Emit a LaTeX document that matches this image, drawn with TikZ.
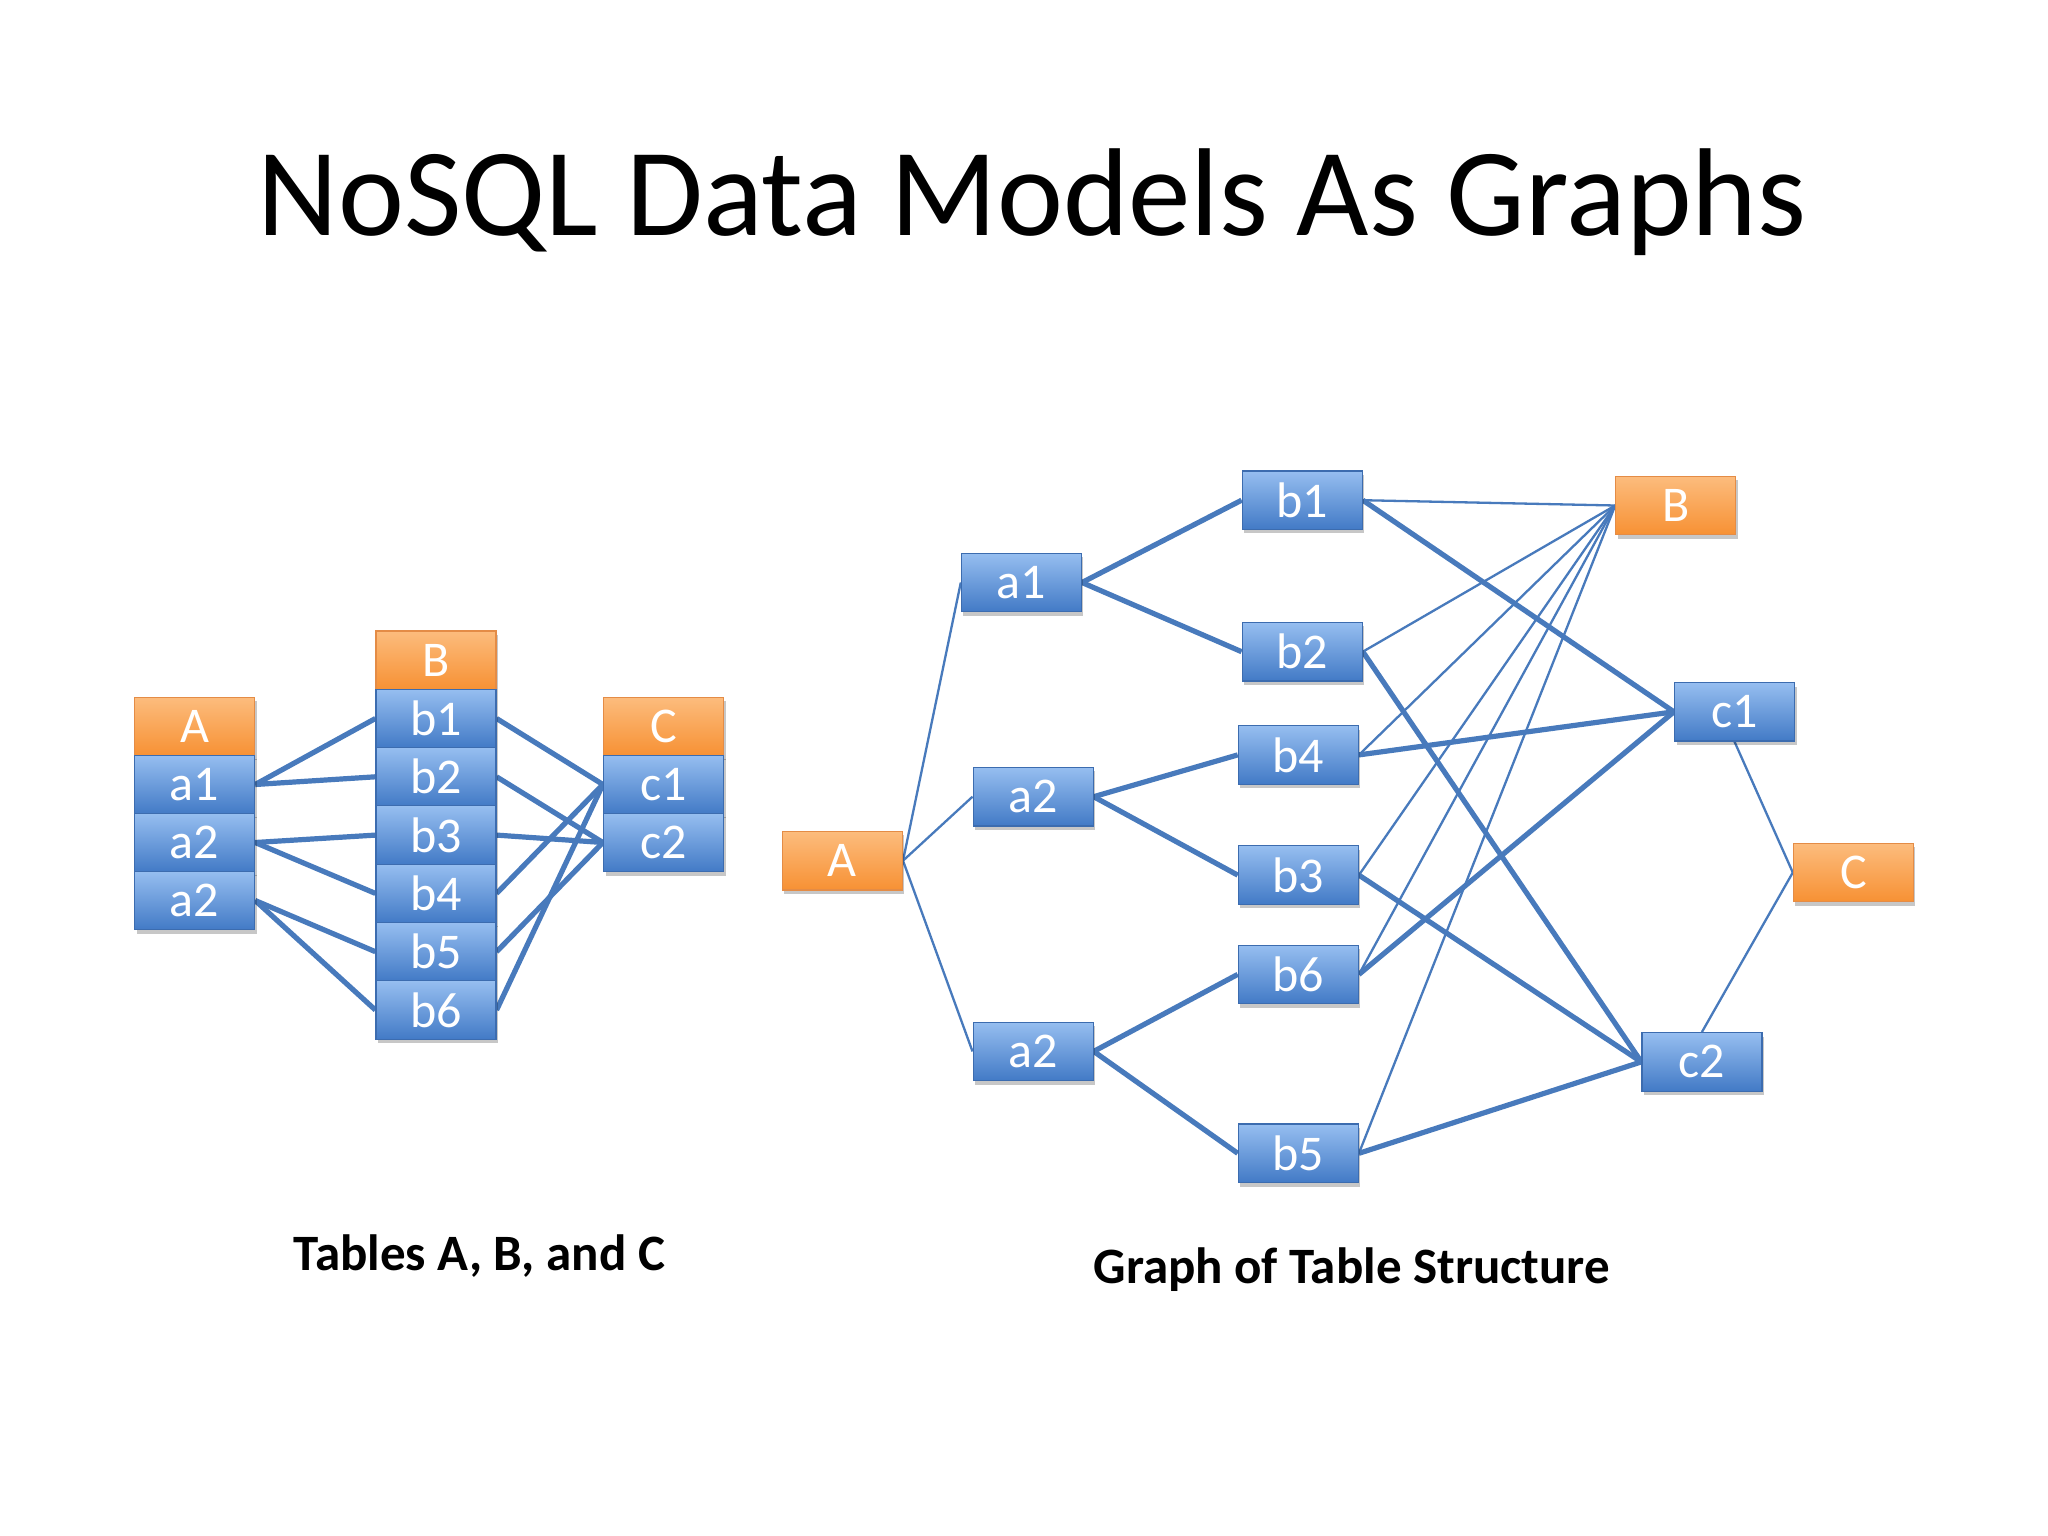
\documentclass[tikz,border=0pt]{standalone}
\usepackage{fontspec}
\setmainfont{Carlito}
\usetikzlibrary{shadows,backgrounds}
\definecolor{edgeblue}{RGB}{72,122,188}
\definecolor{bluetop}{RGB}{150,190,240}
\definecolor{bluebot}{RGB}{66,122,198}
\definecolor{blueline}{RGB}{60,108,175}
\definecolor{orangetop}{RGB}{252,188,125}
\definecolor{orangebot}{RGB}{247,145,52}
\definecolor{orangeline}{RGB}{228,140,70}
\tikzset{
  boxbase/.style={line width=1.2pt, text=white, minimum width=120pt, minimum height=58.5pt,
    inner sep=0pt, font=\fontsize{50}{50}\selectfont,
    drop shadow={shadow xshift=2pt, shadow yshift=-4pt, fill=black, opacity=0.22}},
  bluebox/.style={boxbase, draw=blueline, top color=bluetop, bottom color=bluebot},
  orangebox/.style={boxbase, draw=orangeline, top color=orangetop, bottom color=orangebot},
  fatline/.style={draw=edgeblue, line width=5.2pt},
  slimline/.style={draw=edgeblue, line width=2.3pt},
}
\begin{document}
\begin{tikzpicture}[x=1pt, y=-1pt]
\useasboundingbox (0,0) rectangle (2048,1536);
% title
\node[font=\fontsize{125}{125}\selectfont, anchor=base] (title) at (1032,235) {NoSQL Data Models As Graphs};
% ---------- left tables ----------
\node[orangebox] (tA) at (194.6,726.5) {A};
\node[bluebox] (ta1) at (194.6,784.5) {a1};
\node[bluebox] (ta2) at (194.6,842.5) {a2};
\node[bluebox] (ta3) at (194.6,900.5) {a2};
\node[orangebox] (tB) at (436,660.2) {B};
\node[bluebox] (tb1) at (436,718.5) {b1};
\node[bluebox] (tb2) at (436,776.8) {b2};
\node[bluebox] (tb3) at (436,835.1) {b3};
\node[bluebox] (tb4) at (436,893.4) {b4};
\node[bluebox] (tb5) at (436,951.7) {b5};
\node[bluebox] (tb6) at (436,1010) {b6};
\node[orangebox] (tC) at (663.5,726.5) {C};
\node[bluebox] (tc1) at (663.5,784.5) {c1};
\node[bluebox] (tc2) at (663.5,842.5) {c2};
% ---------- right graph ----------
\node[orangebox] (gA) at (842.4,860.7) {A};
\node[bluebox] (ga1) at (1021.4,582.5) {a1};
\node[bluebox] (ga2) at (1033.1,796.7) {a2};
\node[bluebox] (ga3) at (1033.1,1051.4) {a2};
\node[bluebox] (gb1) at (1302.2,500.2) {b1};
\node[bluebox] (gb2) at (1302.2,651.7) {b2};
\node[bluebox] (gb4) at (1298.3,754.9) {b4};
\node[bluebox] (gb3) at (1298.3,875.1) {b3};
\node[bluebox] (gb6) at (1298.3,974.4) {b6};
\node[bluebox] (gb5) at (1298.3,1153.3) {b5};
\node[orangebox] (gB) at (1675.8,505.5) {B};
\node[bluebox] (gc1) at (1734.5,711.8) {c1};
\node[orangebox] (gC) at (1853.4,872.5) {C};
\node[bluebox] (gc2) at (1701.9,1061.9) {c2};
% captions
\node[font=\bfseries\fontsize{51}{51}\selectfont] (cap1) at (479.3,1256.5) {Tables A, B, and C};
\node[font=\bfseries\fontsize{51}{51}\selectfont] (cap2) at (1351.8,1269.6) {Graph of Table Structure};
\begin{pgfonlayer}{background}
\fill[white] (0,0) rectangle (2048,1536);
% left connectors
\draw[fatline] (ta1.east) -- (tb1.west);
\draw[fatline] (ta1.east) -- (tb2.west);
\draw[fatline] (ta2.east) -- (tb3.west);
\draw[fatline] (ta2.east) -- (tb4.west);
\draw[fatline] (ta3.east) -- (tb5.west);
\draw[fatline] (ta3.east) -- (tb6.west);
\draw[fatline] (tb1.east) -- (tc1.west);
\draw[fatline] (tb2.east) -- (tc2.west);
\draw[fatline] (tb3.east) -- (tc2.west);
\draw[fatline] (tb4.east) -- (tc1.west);
\draw[fatline] (tb5.east) -- (tc2.west);
\draw[fatline] (tb6.east) -- (tc1.west);
% right connectors
\draw[slimline] (gA.east) -- (ga1.west);
\draw[slimline] (gA.east) -- (ga2.west);
\draw[slimline] (gA.east) -- (ga3.west);
\draw[fatline] (ga1.east) -- (gb1.west);
\draw[fatline] (ga1.east) -- (gb2.west);
\draw[fatline] (ga2.east) -- (gb4.west);
\draw[fatline] (ga2.east) -- (gb3.west);
\draw[fatline] (ga3.east) -- (gb6.west);
\draw[fatline] (ga3.east) -- (gb5.west);
\foreach \n in {gb1,gb2,gb4,gb3,gb6,gb5} \draw[slimline] (\n.east) -- (gB.west);
\draw[fatline] (gb1.east) -- (gc1.west);
\draw[fatline] (gb4.east) -- (gc1.west);
\draw[fatline] (gb6.east) -- (gc1.west);
\draw[fatline] (gb2.east) -- (gc2.west);
\draw[fatline] (gb3.east) -- (gc2.west);
\draw[fatline] (gb5.east) -- (gc2.west);
\draw[slimline] (gc1.south) -- (gC.west);
\draw[slimline] (gc2.north) -- (gC.west);
\end{pgfonlayer}
\end{tikzpicture}
\end{document}
